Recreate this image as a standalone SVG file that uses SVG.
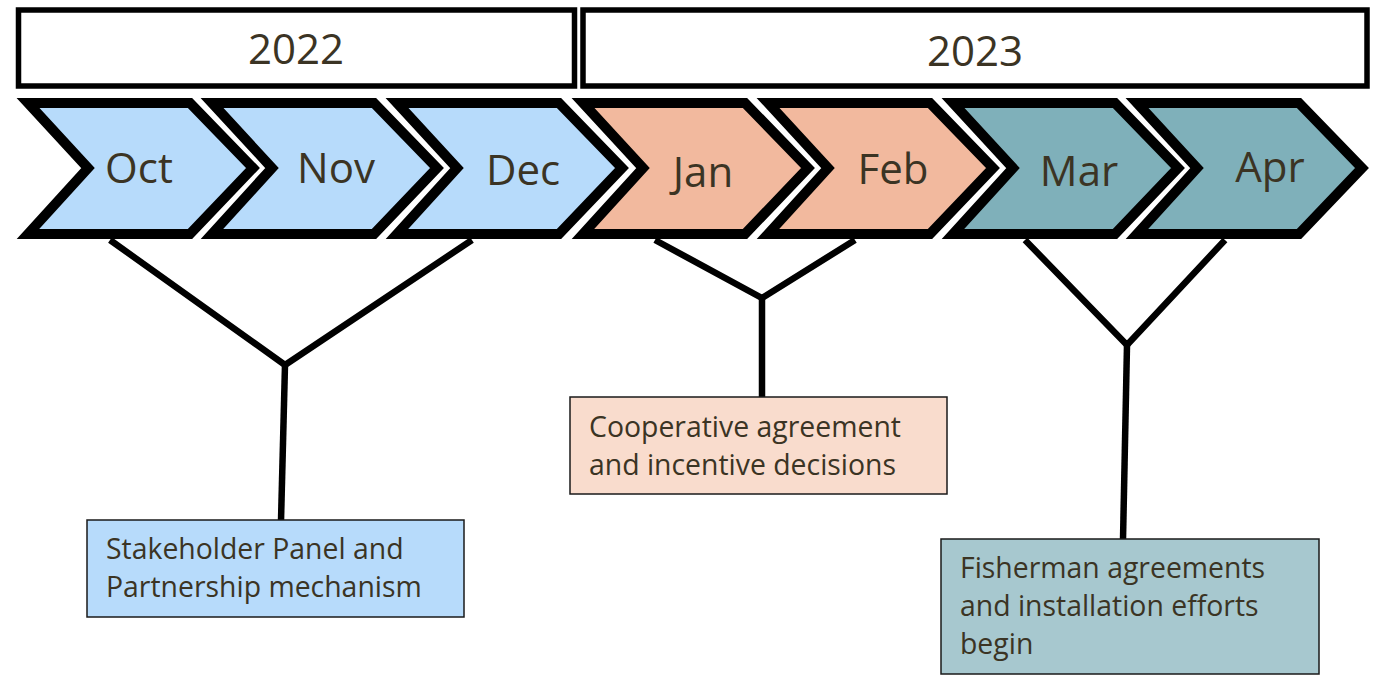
<svg xmlns="http://www.w3.org/2000/svg" width="1373" height="678" viewBox="0 0 1373 678">
<style>
.yr{fill:#fff;stroke:#000;stroke-width:5.5}
.t{font-family:"Open Sans","Liberation Sans",sans-serif;fill:#3b3424}
.big{font-size:42px;text-anchor:middle}
.lab{font-size:28.4px}
.chw{fill:none;stroke:#fff;stroke-width:15;stroke-linejoin:miter}
.chb{stroke:#000;stroke-width:10;stroke-linejoin:miter}
.blue{fill:#b7dbfb}.sal{fill:#f2b99e}.teal{fill:#7fb0ba}
.conn{stroke:#000;stroke-width:6.5;fill:none;stroke-linejoin:miter}
.box{stroke:#1a1a1a;stroke-width:1.5}
</style>
<defs>
<polygon id="chev" points="0,103 162,103 225,168 162,234 0,234 60,168"/>
</defs>
<g id="year2022"><rect class="yr" x="18.5" y="10" width="556" height="76"/><text class="t big" x="296" y="64">2022</text></g>
<g id="year2023"><rect class="yr" x="583" y="10" width="784" height="76"/><text class="t big" x="975" y="66">2023</text></g>
<g id="oct"><use href="#chev" x="28" class="chw"/><use href="#chev" x="28" class="chb blue"/><text class="t big" x="139" y="183">Oct</text></g>
<g id="nov"><use href="#chev" x="212" class="chw"/><use href="#chev" x="212" class="chb blue"/><text class="t big" x="336" y="183">Nov</text></g>
<g id="dec"><use href="#chev" x="397" class="chw"/><use href="#chev" x="397" class="chb blue"/><text class="t big" x="523" y="185">Dec</text></g>
<g id="jan"><use href="#chev" x="583" class="chw"/><use href="#chev" x="583" class="chb sal"/><text class="t big" x="703" y="187">Jan</text></g>
<g id="feb"><use href="#chev" x="768" class="chw"/><use href="#chev" x="768" class="chb sal"/><text class="t big" x="893" y="184">Feb</text></g>
<g id="mar"><use href="#chev" x="953" class="chw"/><use href="#chev" x="953" class="chb teal"/><text class="t big" x="1079" y="186">Mar</text></g>
<g id="apr"><use href="#chev" x="1137" class="chw"/><use href="#chev" x="1137" class="chb teal"/><text class="t big" x="1270" y="182">Apr</text></g>
<g id="connectors">
<polyline class="conn" points="110,240 285,365 472,240"/><line class="conn" x1="285" y1="365" x2="281" y2="521"/>
<polyline class="conn" points="655,240 762,298 855,240"/><line class="conn" x1="762" y1="298" x2="762" y2="398"/>
<polyline class="conn" points="1025,240 1127,345 1225,240"/><line class="conn" x1="1127" y1="345" x2="1123" y2="540"/>
</g>
<g id="box1"><rect class="box" x="87" y="520" width="377" height="97" fill="#b7dbfb"/><text class="t lab" x="106" y="559">Stakeholder Panel and</text><text class="t lab" x="106" y="597">Partnership mechanism</text></g>
<g id="box2"><rect class="box" x="570" y="397" width="377" height="97" fill="#f9dccd"/><text class="t lab" x="589" y="437">Cooperative agreement</text><text class="t lab" x="589" y="475">and incentive decisions</text></g>
<g id="box3"><rect class="box" x="941" y="539" width="378" height="135" fill="#a7c8cf"/><text class="t lab" x="960" y="578">Fisherman agreements</text><text class="t lab" x="960" y="616">and installation efforts</text><text class="t lab" x="960" y="654">begin</text></g>
</svg>
